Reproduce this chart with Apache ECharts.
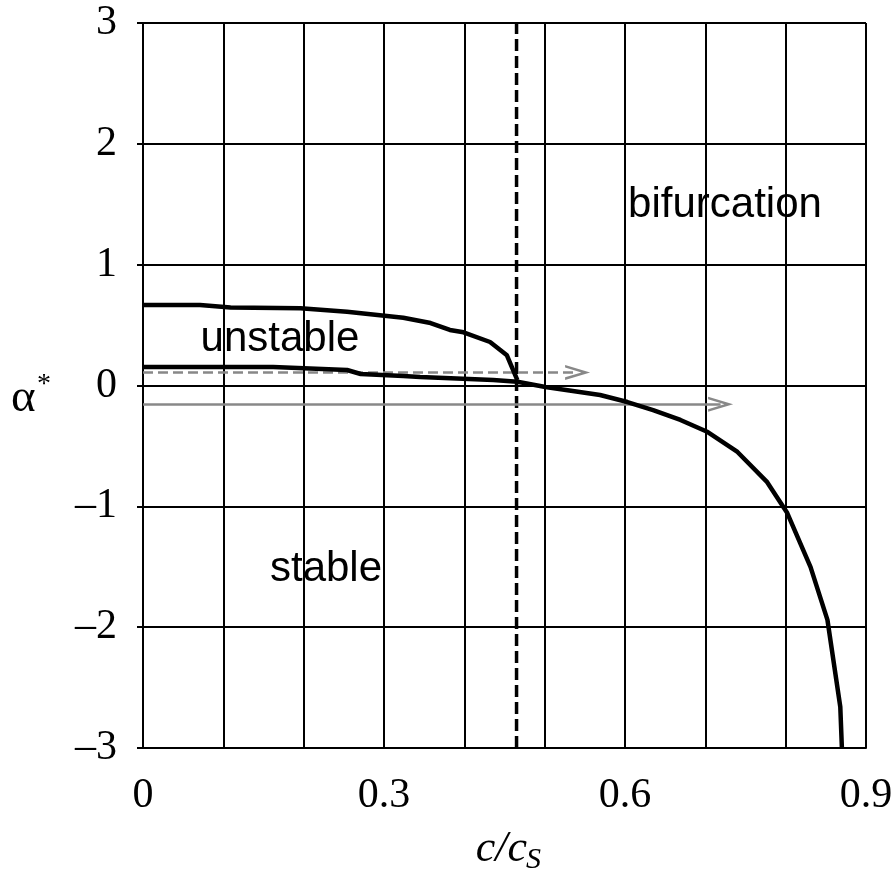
<!DOCTYPE html>
<html>
<head>
<meta charset="utf-8">
<script src="https://cdn.jsdelivr.net/npm/echarts@6/dist/echarts.min.js"></script>
<style>
  html, body { margin: 0; padding: 0; background: #fff; }
  #chart { width: 896px; height: 876px; }
</style>
</head>
<body>
<div id="chart"></div>
<script>
// Upper boundary of the unstable region
const upperX = [0, 0.071, 0.109, 0.196, 0.254, 0.324, 0.358, 0.382, 0.399, 0.432, 0.453, 0.466];
const upperY = [0.666, 0.666, 0.646, 0.64, 0.61, 0.56, 0.517, 0.46, 0.44, 0.36, 0.25, 0.045];

// Lower boundary: stable / bifurcation limit
const lowerX = [0, 0.162, 0.254, 0.271, 0.324, 0.345, 0.436, 0.466, 0.501, 0.569, 0.603, 0.635, 0.669, 0.703, 0.740, 0.777, 0.802, 0.831, 0.852, 0.868, 0.870];
const lowerY = [0.153, 0.153, 0.128, 0.095, 0.079, 0.07, 0.046, 0.031, -0.012, -0.079, -0.137, -0.203, -0.285, -0.385, -0.55, -0.80, -1.056, -1.503, -1.94, -2.66, -3.0];

// Critical velocity ratio (vertical dashed line across the full range)
const criticalRatio = 0.465;
const criticalSpan = [-3, 3];

// Horizontal loading paths (level, end of path)
const dashedPath = [0.108, 0.541];
const solidPath = [-0.155, 0.719];

// Tick labels
const xTickLabels = ['0', '0.3', '0.6', '0.9'];
const yTickLabels = ['\u20133', '\u20132', '\u20131', '0', '1', '2', '3'];

const zip = (xs, ys) => xs.map((x, i) => [x, ys[i]]);

const chevron = 'path://M75,0 L150,250 L124,250 L75,87 L26,250 L0,250 Z';

const serif = 'Liberation Serif';

const chart = echarts.init(document.getElementById('chart'), null, { renderer: 'canvas' });

chart.setOption({
  animation: false,
  backgroundColor: '#fff',
  grid: { left: 143, right: 30, top: 23, bottom: 128, containLabel: false },
  xAxis: {
    type: 'value',
    min: 0, max: 0.9, interval: 0.1,
    axisLine: { show: true, onZero: false, lineStyle: { color: '#000', width: 2 } },
    axisTick: { show: false },
    axisLabel: {
      color: '#000', fontFamily: serif, fontSize: 42, margin: 27,
      formatter: v => {
        const hit = xTickLabels.find(t => Math.abs(parseFloat(t) - v) < 1e-6);
        return hit === undefined ? '' : hit;
      }
    },
    splitLine: { show: true, lineStyle: { color: '#000', width: 2 } }
  },
  yAxis: {
    type: 'value',
    min: -3, max: 3, interval: 1,
    axisLine: { show: true, onZero: false, lineStyle: { color: '#000', width: 2 } },
    axisTick: {
      show: true, length: 6, lineStyle: { color: '#000', width: 2 },
      interval: (i, v) => Math.abs(Number(v)) < 3
    },
    axisLabel: {
      color: '#000', fontFamily: serif, fontSize: 42, margin: 26,
      formatter: v => yTickLabels[Math.round(v) + 3]
    },
    splitLine: { show: true, lineStyle: { color: '#000', width: 2 } }
  },
  series: [
    {
      type: 'line', name: 'critical',
      data: criticalSpan.map(y => [criticalRatio, y]),
      showSymbol: false, symbol: 'none', silent: true, z: 4,
      lineStyle: { color: '#000', width: 3.5, type: [12, 5] }
    },
    {
      type: 'line', name: 'upper', data: zip(upperX, upperY),
      showSymbol: false, symbol: 'none', silent: true, z: 5,
      lineStyle: { color: '#000', width: 4.5, join: 'round' }
    },
    {
      type: 'line', name: 'lower', data: zip(lowerX, lowerY),
      showSymbol: false, symbol: 'none', silent: true, z: 5,
      lineStyle: { color: '#000', width: 4.5, join: 'round' }
    },
    {
      type: 'line', name: 'dashedPath', data: [], silent: true, z: 3,
      markLine: {
        silent: true, animation: false,
        symbol: ['none', chevron], symbolSize: [15, 25],
        label: { show: false },
        lineStyle: { color: '#888', width: 2.5, type: [10, 5] },
        emphasis: { disabled: true },
        data: [[{ coord: [0, dashedPath[0]] }, { coord: [dashedPath[1], dashedPath[0]] }]]
      }
    },
    {
      type: 'line', name: 'solidPath', data: [], silent: true, z: 3,
      markLine: {
        silent: true, animation: false,
        symbol: ['none', chevron], symbolSize: [15, 25],
        label: { show: false },
        lineStyle: { color: '#888', width: 2.5, type: 'solid' },
        emphasis: { disabled: true },
        data: [[{ coord: [0, solidPath[0]] }, { coord: [solidPath[1], solidPath[0]] }]]
      }
    }
  ],
  graphic: [
    { type: 'text', z: 10, style: { text: 'unstable', x: 280, y: 339, align: 'center', verticalAlign: 'middle', font: '42px "Liberation Sans"', fill: '#000' } },
    { type: 'text', z: 10, style: { text: 'stable', x: 326, y: 569, align: 'center', verticalAlign: 'middle', font: '42px "Liberation Sans"', fill: '#000' } },
    { type: 'text', z: 10, style: { text: 'bifurcation', x: 725, y: 205, align: 'center', verticalAlign: 'middle', font: '42px "Liberation Sans"', fill: '#000' } },
    { type: 'text', z: 10, style: { text: '\u03b1', x: 11, y: 399, align: 'left', verticalAlign: 'middle', font: '47px "Liberation Serif"', fill: '#000' } },
    { type: 'text', z: 10, style: { text: '*', x: 37, y: 385, align: 'left', verticalAlign: 'middle', font: '28px "Liberation Serif"', fill: '#000' } },
    { type: 'text', z: 10, style: { text: 'c/c', x: 527, y: 849, align: 'right', verticalAlign: 'middle', font: 'italic 44px "Liberation Serif"', fill: '#000' } },
    { type: 'text', z: 10, style: { text: 'S', x: 526, y: 860, align: 'left', verticalAlign: 'middle', font: 'italic 30px "Liberation Serif"', fill: '#000' } }
  ]
});
</script>
</body>
</html>
